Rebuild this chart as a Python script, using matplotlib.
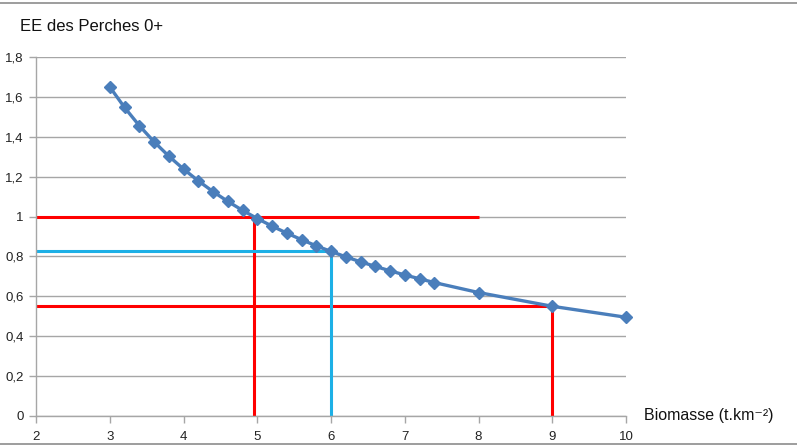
import matplotlib
matplotlib.use("Agg")
import matplotlib.pyplot as plt
from matplotlib.lines import Line2D
from matplotlib.ticker import FuncFormatter, MultipleLocator

plt.rcParams["font.family"] = ["Liberation Sans", "DejaVu Sans"]

# Biomass (t.km-2) and EE of 0+ perch
biomasse = [3.0, 3.2, 3.4, 3.6, 3.8, 4.0, 4.2, 4.4, 4.6, 4.8, 5.0, 5.2, 5.4,
            5.6, 5.8, 6.0, 6.2, 6.4, 6.6, 6.8, 7.0, 7.2, 7.4, 8.0, 9.0, 10.0]
ee = [1.65, 1.547, 1.456, 1.375, 1.303, 1.238, 1.179, 1.125, 1.076, 1.031,
      0.99, 0.952, 0.917, 0.884, 0.853, 0.825, 0.798, 0.773, 0.75, 0.728,
      0.707, 0.688, 0.669, 0.619, 0.55, 0.495]

# reference lines: horizontal at ref_y up to ref_h_end, vertical at ref_v_x up to ref_v_top
ref_y = [1.0, 0.55, 0.825]
ref_h_end = [8.0, 9.0, 6.0]
ref_v_x = [4.95, 9.0, 6.0]
ref_v_top = [1.0, 0.55, 0.825]
ref_colors = ["#FF0000", "#FF0000", "#1DB0E6"]

BLUE = "#4A7EBB"
GRID = "#A6A6A6"

fig = plt.figure(figsize=(7.97, 4.47), dpi=100)
ax = fig.add_axes([0.0452, 0.0694, 0.7403, 0.8031])

ax.set_xlim(2, 10)
ax.set_ylim(0, 1.8)
ax.xaxis.set_major_locator(MultipleLocator(1))
ax.yaxis.set_major_locator(MultipleLocator(0.2))
ax.yaxis.set_major_formatter(FuncFormatter(lambda v, _: f"{round(v, 1):g}".replace(".", ",")))
ax.grid(axis="y", color=GRID, lw=1.0)
ax.set_axisbelow(True)
for side in ("top", "right"):
    ax.spines[side].set_visible(False)
for side in ("left", "bottom"):
    ax.spines[side].set_color(GRID)
    ax.spines[side].set_linewidth(1.0)
ax.tick_params(axis="both", colors=GRID, length=5, width=1.0, labelcolor="#222222", labelsize=9.5)
ax.tick_params(axis="x", pad=6)
ax.tick_params(axis="y", pad=4)

# reference lines
for y, xe, xv, yt, c in zip(ref_y, ref_h_end, ref_v_x, ref_v_top, ref_colors):
    ax.plot([2, xe], [y, y], color=c, lw=2.2, zorder=2, solid_capstyle="butt")
    ax.plot([xv, xv], [0, yt], color=c, lw=2.2, zorder=2, solid_capstyle="butt")

ax.plot(biomasse, ee, color=BLUE, lw=2.4, marker="D", ms=6.5,
        markerfacecolor=BLUE, markeredgecolor=BLUE, zorder=3, clip_on=False)

fig.text(0.025, 0.94, "EE des Perches 0+", fontsize=12, color="#111111", va="center")
fig.text(0.808, 0.071, "Biomasse (t.km\u207b\u00b2)", fontsize=11.5, color="#111111", va="center")

# chart frame lines at top and bottom
fig.add_artist(Line2D([0, 1], [0.993, 0.993], color="#8C8C8C", lw=1.2, transform=fig.transFigure))
fig.add_artist(Line2D([0, 1], [0.007, 0.007], color="#8C8C8C", lw=1.2, transform=fig.transFigure))

fig.savefig("out.png", dpi=100)
